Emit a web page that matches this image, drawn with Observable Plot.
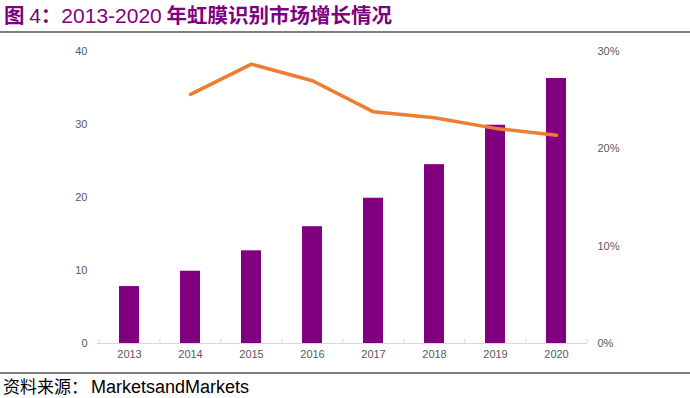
<!DOCTYPE html>
<html>
<head>
<meta charset="utf-8">
<script src="https://cdn.jsdelivr.net/npm/d3@7"></script>
<script src="https://cdn.jsdelivr.net/npm/@observablehq/plot@0.6"></script>
<style>
  html, body { margin: 0; padding: 0; background: #fff; }
  #wrap { width: 690px; }
  #title {
    height: 31px; line-height: 28px; padding-left: 4px;
    font-family: "Noto Sans CJK SC", sans-serif; font-weight: bold;
    font-size: 20.5px; color: #7f007f; border-bottom: 2px solid #7f7f7f;
    white-space: nowrap;
  }
  #title .num { font-family: "Liberation Sans", Arial, sans-serif; font-weight: normal; font-size: 21px; }
  #chart svg { display: block; }
  #caption {
    border-top: 2px solid #7f7f7f; padding-left: 3px;
    font-family: "Noto Sans CJK SC", "Liberation Sans", sans-serif;
    font-size: 17px; line-height: 24px; color: #000; white-space: nowrap;
  }
  #caption .en { font-family: "Liberation Sans", Arial, sans-serif; font-size: 18px; padding-left: 3px; }
</style>
</head>
<body>
<div id="wrap">
  <div id="title">图 <span class="num">4</span>：<span class="num">2013-2020</span> 年虹膜识别市场增长情况</div>
  <div id="chart"></div>
  <div id="caption">资料来源：<span class="en">MarketsandMarkets</span></div>
</div>
<script>
const years = ["2013", "2014", "2015", "2016", "2017", "2018", "2019", "2020"];
const marketSize = [7.8, 9.9, 12.7, 16.0, 19.9, 24.5, 29.9, 36.3];
const growthPct = [null, 25.6, 28.7, 27.0, 23.8, 23.2, 22.1, 21.4];
const leftTicks = [0, 10, 20, 30, 40];
const rightTicks = [0, 10, 20, 30];

const leftMax = 40, rightMax = 30;
const toLeft = p => p * leftMax / rightMax;

const data = years.map((year, i) => ({year, size: marketSize[i], growth: growthPct[i]}));
const lineData = data.filter(d => d.growth != null);

const width = 690, marginLeft = 97, marginRight = 103;
const step = (width - marginLeft - marginRight) / years.length;

const axisStyle = {fontFamily: "'Liberation Sans', Arial, sans-serif", fontSize: 11, fill: "#595959"};

const chart = Plot.plot({
  width,
  height: 339,
  marginTop: 18,
  marginBottom: 29,
  marginLeft,
  marginRight,
  style: {fontFamily: "'Liberation Sans', Arial, sans-serif", fontSize: "11px", color: "#595959", background: "#fff"},
  x: {type: "band", domain: years, paddingInner: 0.673, paddingOuter: 0.337, label: null},
  y: {domain: [0, leftMax], label: null},
  marks: [
    Plot.ruleY([0], {stroke: "#d9d9d9", strokeWidth: 1}),
    Plot.ruleX(years, {x: d => d, dx: -step / 2, y1: 0, y2: 0.6, stroke: "#d9d9d9"}),
    Plot.ruleX(years.slice(-1), {x: d => d, dx: step / 2, y1: 0, y2: 0.6, stroke: "#d9d9d9"}),
    Plot.barY(data, {x: "year", y: "size", fill: "#800080"}),
    Plot.line(lineData, {x: "year", y: d => toLeft(d.growth), stroke: "#ed7d31", strokeWidth: 3.5, strokeLinejoin: "round", strokeLinecap: "round"}),
    Plot.axisY(leftTicks, {anchor: "left", tickSize: 0, tickPadding: 10, label: null, ...axisStyle}),
    Plot.axisY(rightTicks.map(toLeft), {anchor: "right", tickSize: 0, tickPadding: 10, label: null, tickFormat: d => Math.round(d * rightMax / leftMax) + "%", ...axisStyle}),
    Plot.axisX({anchor: "bottom", tickSize: 0, tickPadding: 7, label: null, ...axisStyle})
  ]
});
document.getElementById("chart").appendChild(chart);
</script>
</body>
</html>
